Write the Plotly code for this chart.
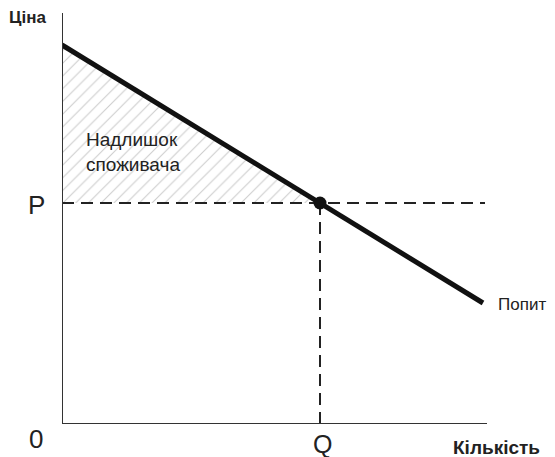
import plotly.graph_objects as go

# Demand curve endpoints (quantity, price)
demand_q = [0, 421]
demand_p = [379, 121]
# Equilibrium
eq_q = 258
eq_p = 221
# Consumer surplus triangle
cs_q = [0, 0, eq_q, 0]
cs_p = [379, eq_p, eq_p, 379]

labels = {"y": "Ціна", "x": "Кількість", "demand": "Попит", "cs": "Надлишок<br>споживача",
          "P": "P", "Q": "Q", "O": "0"}

XR = [0, 440]
YR = [0, 411]
font = "Liberation Sans, Arial, sans-serif"
fig = go.Figure()

fig.add_trace(go.Scatter(x=cs_q, y=cs_p, mode="lines", line=dict(width=0),
                         fill="toself", fillcolor="rgba(0,0,0,0)",
                         fillpattern=dict(shape="/", fgcolor="#9a9a9a", bgcolor="white",
                                          size=9, solidity=0.12),
                         hoverinfo="skip", showlegend=False))
# dashed guides
fig.add_trace(go.Scatter(x=[0, 423], y=[eq_p, eq_p], mode="lines",
                         line=dict(color="#222", width=2, dash="12px,7px"), showlegend=False))
fig.add_trace(go.Scatter(x=[eq_q, eq_q], y=[0, eq_p], mode="lines",
                         line=dict(color="#222", width=2, dash="12px,7px"), showlegend=False))
# demand
fig.add_trace(go.Scatter(x=demand_q, y=demand_p, mode="lines",
                         line=dict(color="#111", width=5), showlegend=False))
fig.add_trace(go.Scatter(x=[eq_q], y=[eq_p], mode="markers",
                         marker=dict(color="#111", size=13), showlegend=False))

def px(x):
    return x / XR[1]

def py(y):
    return y / YR[1]

ann = [
    dict(x=px(-35), y=py(406), text=labels["y"], font=dict(size=17, color="#222", family=font, weight="bold")),
    dict(x=px(434), y=py(-24), text=labels["x"], font=dict(size=19, color="#222", family=font, weight="bold")),
    dict(x=px(460), y=py(120), text=labels["demand"], font=dict(size=17, color="#222", family=font)),
    dict(x=px(22), y=py(272), text=labels["cs"], xanchor="left", align="left",
         font=dict(size=19, color="#222", family=font)),
    dict(x=px(-26), y=py(219), text=labels["P"], font=dict(size=26, color="#222", family=font)),
    dict(x=px(eq_q + 2), y=py(-20), text=labels["Q"], font=dict(size=25, color="#222", family=font)),
    dict(x=px(-26), y=py(-15), text=labels["O"], font=dict(size=26, color="#222", family=font)),
]
for a in ann:
    a.setdefault("xanchor", "center")
    a.update(xref="paper", yref="paper", showarrow=False, yanchor="middle")
fig.update_layout(annotations=ann)

fig.update_layout(
    width=555, height=457,
    margin=dict(l=54, r=61, t=5, b=41),
    paper_bgcolor="white", plot_bgcolor="white",
    xaxis=dict(range=XR, showgrid=False, zeroline=False, showticklabels=False,
               showline=False, fixedrange=True),
    yaxis=dict(range=YR, showgrid=False, zeroline=False, showticklabels=False,
               showline=False, fixedrange=True),
    shapes=[
        dict(type="line", xref="x", yref="y", x0=0, y0=0, x1=0, y1=411, line=dict(color="#333", width=2)),
        dict(type="line", xref="x", yref="y", x0=0, y0=0, x1=425, y1=0, line=dict(color="#333", width=2)),
    ],
)

fig.write_html("out.html")
